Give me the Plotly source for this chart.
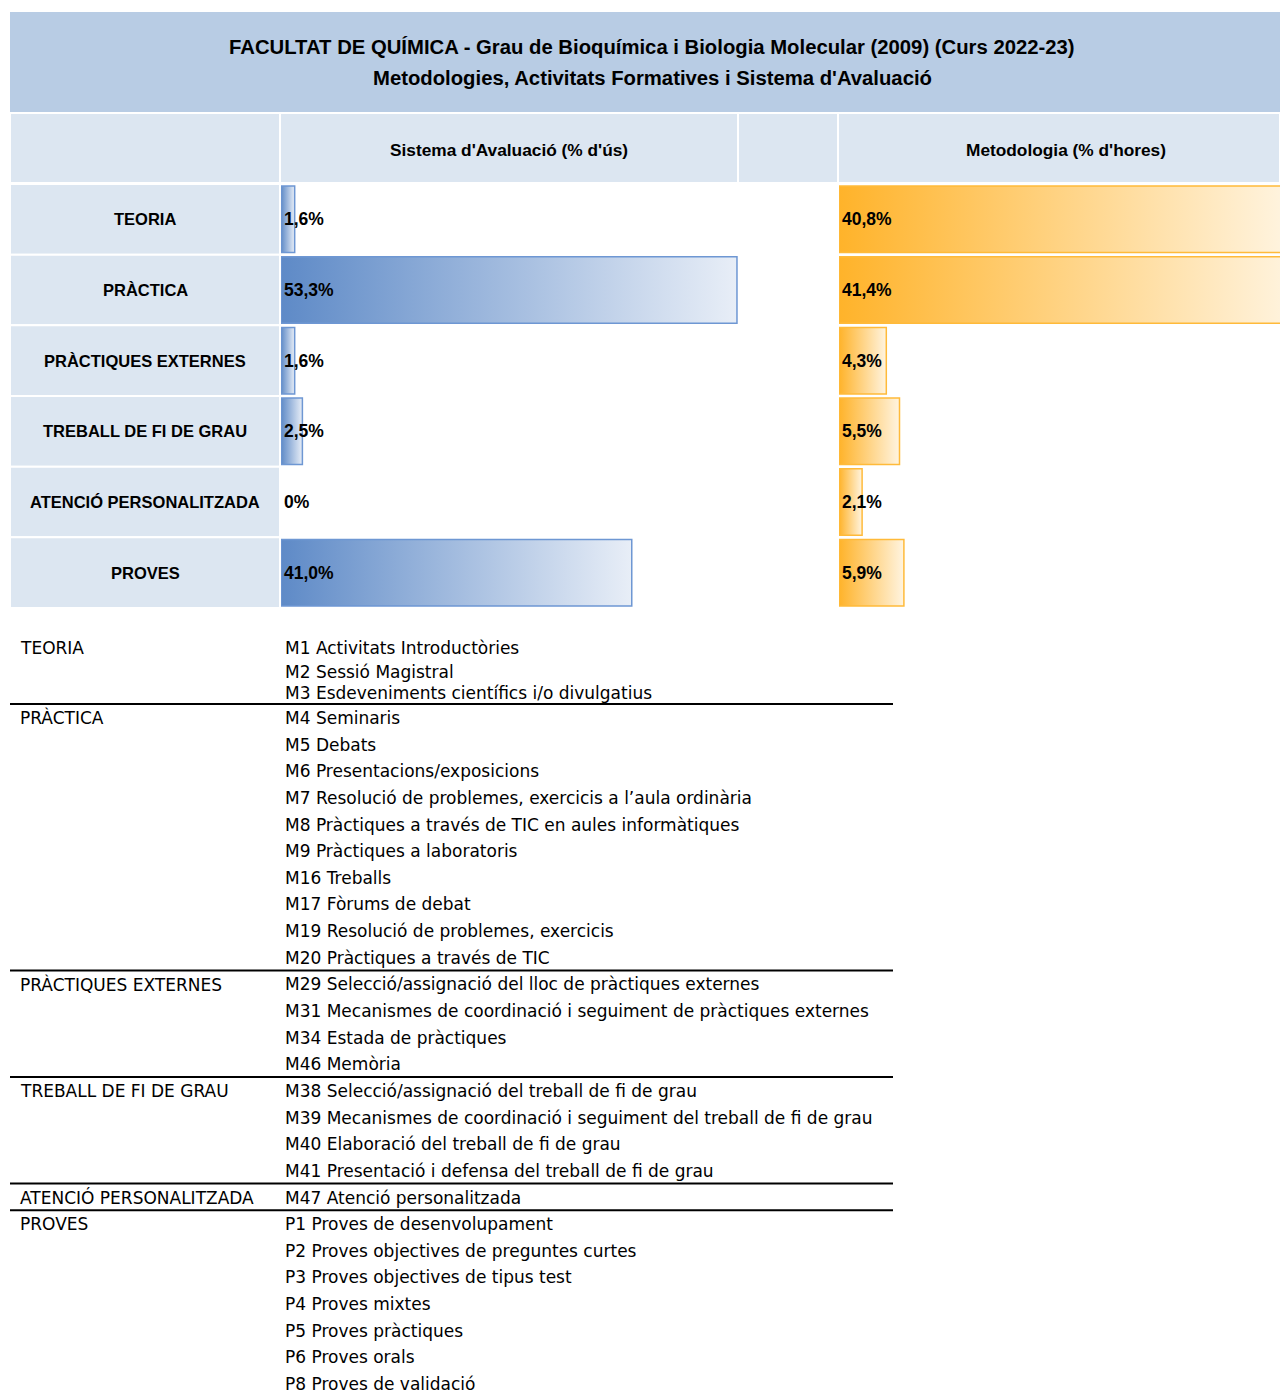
import plotly.graph_objects as go

W, H = 1280, 1394

# --- data -------------------------------------------------------------
categories = ["TEORIA", "PRÀCTICA", "PRÀCTIQUES EXTERNES", "TREBALL DE FI DE GRAU",
              "ATENCIÓ PERSONALITZADA", "PROVES"]
avaluacio = [1.6, 53.3, 1.6, 2.5, 0.0, 41.0]      # Sistema d'Avaluació (% d'ús)
metodologia = [40.8, 41.4, 4.3, 5.5, 2.1, 5.9]    # Metodologia (% d'hores)

title_1 = "FACULTAT DE QUÍMICA - Grau de Bioquímica i Biologia Molecular (2009) (Curs 2022-23)"
title_2 = "Metodologies, Activitats Formatives i Sistema d'Avaluació"
header_avaluacio = "Sistema d'Avaluació (% d'ús)"
header_metodologia = "Metodologia (% d'hores)"

items_teoria = ["M1 Activitats Introductòries", "M2 Sessió Magistral",
                "M3 Esdeveniments científics i/o divulgatius"]
items_practica = ["M4 Seminaris", "M5 Debats", "M6 Presentacions/exposicions",
                  "M7 Resolució de problemes, exercicis a l’aula ordinària",
                  "M8 Pràctiques a través de TIC en aules informàtiques",
                  "M9 Pràctiques a laboratoris", "M16 Treballs", "M17 Fòrums de debat",
                  "M19 Resolució de problemes, exercicis", "M20 Pràctiques a través de TIC"]
items_externes = ["M29 Selecció/assignació del lloc de pràctiques externes",
                  "M31 Mecanismes de coordinació i seguiment de pràctiques externes",
                  "M34 Estada de pràctiques", "M46 Memòria"]
items_tfg = ["M38 Selecció/assignació del treball de fi de grau",
             "M39 Mecanismes de coordinació i seguiment del treball de fi de grau",
             "M40 Elaboració del treball de fi de grau",
             "M41 Presentació i defensa del treball de fi de grau"]
items_atencio = ["M47 Atenció personalitzada"]
items_proves = ["P1 Proves de desenvolupament", "P2 Proves objectives de preguntes curtes",
                "P3 Proves objectives de tipus test", "P4 Proves mixtes",
                "P5 Proves pràctiques", "P6 Proves orals", "P8 Proves de validació"]
groups = [items_teoria, items_practica, items_externes, items_tfg, items_atencio, items_proves]

# --- helpers ----------------------------------------------------------
def px(x):
    return x / W

def py(y):
    return 1 - y / H

def fmt(v):
    return "0%" if v == 0 else f"{v:.1f}%".replace(".", ",")

def label(x, y, text, size, xanchor="center", bold=True, family="Liberation Sans", yref="paper"):
    return dict(xref="paper", yref=yref, x=x, y=y, text=f"<b>{text}</b>" if bold else text,
                xanchor=xanchor, yanchor="middle", showarrow=False,
                font=dict(family=family, size=size, color="black"))

BOLD = "Liberation Sans"
HEAD_BG = "#B8CCE4"
CELL_BG = "#DCE6F1"
HALF = 0.47

fig = go.Figure()

# gradient bars, one polygon per bar so the gradient spans each bar
for i, v in enumerate(avaluacio):
    if v <= 0:
        continue
    fig.add_trace(go.Scatter(
        x=[0, v, v, 0, 0], y=[i - HALF, i - HALF, i + HALF, i + HALF, i - HALF],
        mode="lines", fill="toself",
        fillgradient=dict(type="horizontal", colorscale=[[0, "#5E8AC7"], [1, "#E8EEF7"]]),
        line=dict(color="#6E97D3", width=1.5),
        xaxis="x", yaxis="y", hoverinfo="skip", showlegend=False))

for i, v in enumerate(metodologia):
    if v <= 0:
        continue
    fig.add_trace(go.Scatter(
        x=[0, v, v, 0, 0], y=[i - HALF, i - HALF, i + HALF, i + HALF, i - HALF],
        mode="lines", fill="toself",
        fillgradient=dict(type="horizontal", colorscale=[[0, "#FFB32A"], [1, "#FFF4E0"]]),
        line=dict(color="#FFBA3A", width=1.5),
        xaxis="x2", yaxis="y", hoverinfo="skip", showlegend=False))

shapes = []
annotations = []

# value labels, anchored at the zero of each axis
for vals, xa in [(avaluacio, "x"), (metodologia, "x2")]:
    for i, v in enumerate(vals):
        annotations.append(dict(xref=xa, yref="y", x=0, y=i, text=f"<b>{fmt(v)}</b>",
                                xanchor="left", yanchor="middle", xshift=1, showarrow=False,
                                font=dict(family=BOLD, size=17.5, color="black")))

# title band
shapes.append(dict(type="rect", xref="paper", yref="paper", x0=px(10), x1=px(1280),
                   y0=py(112), y1=py(12), fillcolor=HEAD_BG, line=dict(width=0), layer="below"))
annotations.append(label(px(652), py(47), title_1, 20.3))
annotations.append(label(px(652), py(78), title_2, 20.3))

# header row cells
for x0, x1 in [(10, 280), (280, 738), (738, 838), (838, 1280)]:
    shapes.append(dict(type="rect", xref="paper", yref="paper", x0=px(x0), x1=px(x1),
                       y0=py(183), y1=py(113), fillcolor=CELL_BG,
                       line=dict(color="white", width=2), layer="below"))
annotations.append(label(px(509), py(150), header_avaluacio, 17.3))
annotations.append(label(px(1066), py(150), header_metodologia, 17.3))

# row label cells
for i, cat in enumerate(categories):
    shapes.append(dict(type="rect", xref="paper", yref="y", x0=px(10), x1=px(280),
                       y0=i - 0.5, y1=i + 0.5, fillcolor=CELL_BG,
                       line=dict(color="white", width=2), layer="below"))
    annotations.append(label(px(145), i, cat, 16.5, yref="y"))

# listing below the chart
LIST_FAMILY = "DejaVu Sans"
LIST_SIZE = 17
first_ys = [648, 672, 693]
line_no = 0
for g, (cat, items) in enumerate(zip(categories, groups)):
    for k, item in enumerate(items):
        if line_no < 3:
            y = first_ys[line_no]
        else:
            y = 718 + (line_no - 3) * 26.64
        if k == 0:
            annotations.append(label(px(17.5), py(y), cat, LIST_SIZE, xanchor="left",
                                     bold=False, family=LIST_FAMILY))
            if g > 0:
                shapes.append(dict(type="line", xref="paper", yref="paper", x0=px(10), x1=px(893),
                                   y0=py(y - 14), y1=py(y - 14), line=dict(color="black", width=2)))
        annotations.append(label(px(282.5), py(y), item, LIST_SIZE, xanchor="left",
                                 bold=False, family=LIST_FAMILY))
        line_no += 1

fig.update_layout(
    width=W, height=H, margin=dict(l=0, r=0, t=0, b=0),
    paper_bgcolor="white", plot_bgcolor="white",
    xaxis=dict(domain=[px(281), px(738)], range=[0, (738 - 281) / 8.555],
               visible=False, fixedrange=True),
    xaxis2=dict(domain=[px(839), 1.0], range=[0, (1280 - 839) / 11.0],
                visible=False, fixedrange=True),
    yaxis=dict(domain=[py(608), py(184)], range=[5.5, -0.5], visible=False, fixedrange=True),
    shapes=shapes, annotations=annotations, showlegend=False,
)

fig.write_html("out.html", config={"displayModeBar": False},
               post_script="document.body.style.margin='0';document.body.style.overflow='hidden';")
